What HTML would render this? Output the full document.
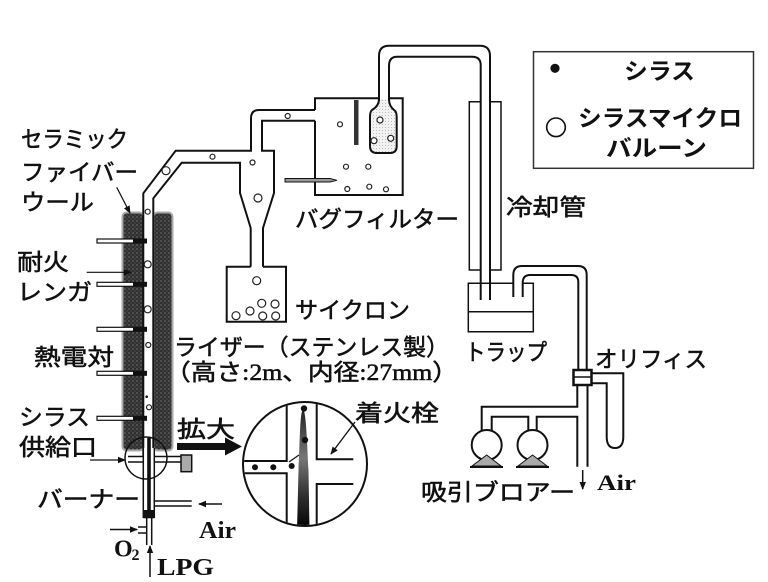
<!DOCTYPE html>
<html><head><meta charset="utf-8">
<style>
html,body{margin:0;padding:0;background:#fff;}
svg{display:block;}
.j{font-family:"Liberation Sans","Noto Sans CJK JP",sans-serif;font-size:23px;fill:#111;stroke:#111;stroke-width:0.55;}
.jb{font-family:"Liberation Sans","Noto Sans CJK JP",sans-serif;font-size:23px;font-weight:bold;fill:#111;}
.s{font-family:"Liberation Serif","Noto Sans CJK JP",serif;font-weight:bold;fill:#111;}
.ln{fill:none;stroke:#111;stroke-width:2;}
.th{fill:none;stroke:#111;stroke-width:1.5;}
.c{fill:#fff;stroke:#222;stroke-width:1.2;}
</style></head><body>
<svg width="768" height="582" viewBox="0 0 768 582" xmlns="http://www.w3.org/2000/svg">
<defs>
<pattern id="br" width="4" height="4" patternUnits="userSpaceOnUse">
<rect width="4" height="4" fill="#303030"/><circle cx="1" cy="1" r="0.6" fill="#9a9a9a"/><circle cx="3" cy="3" r="0.5" fill="#777"/>
</pattern>
<pattern id="bg" width="3" height="3" patternUnits="userSpaceOnUse">
<rect width="3" height="3" fill="#f2f2f2"/><circle cx="1.5" cy="1.5" r="0.5" fill="#aaa"/>
</pattern>
<linearGradient id="fl" x1="0" y1="0" x2="0" y2="1">
<stop offset="0" stop-color="#222"/><stop offset="0.4" stop-color="#777"/><stop offset="0.7" stop-color="#333"/><stop offset="1" stop-color="#000"/>
</linearGradient>
<marker id="ah" markerWidth="8" markerHeight="8" refX="7" refY="4" orient="auto" markerUnits="userSpaceOnUse">
<path d="M0,0.8 L8,4 L0,7.2 Z" fill="#111"/>
</marker>
<clipPath id="mc"><circle cx="305" cy="464" r="61"/></clipPath>
</defs>

<!-- bricks -->
<rect x="122.5" y="212.5" width="21" height="238" rx="4" fill="url(#br)" stroke="#aaa" stroke-width="2"/>
<rect x="153.5" y="212.5" width="19" height="238" rx="4" fill="url(#br)" stroke="#aaa" stroke-width="2"/>
<rect x="143.3" y="195" width="10" height="262" fill="#fff"/>

<!-- riser / duct -->
<path class="ln" d="M143.3,456 V193.3 L175.7,150.7 H251 V118 Q251,110 259,110 H315"/>
<path class="ln" d="M153.3,456 V198.3 L181.7,162.7 H240 V193 L250.7,228 V266.7"/>
<path class="ln" d="M315,120.7 H262 V150.7 H274 V193 L263,228 V266.7"/>
<path class="ln" d="M250.7,266.7 H226.7 V321.7 H286 V266.7 H263"/>

<!-- bag filter -->
<path class="ln" d="M315,110 V98.3 H379 M389,98.3 H402.7 V195 H315 V120.7"/>
<rect x="354" y="100" width="4.5" height="45" fill="#333"/>
<polygon points="285,178.5 330,178.5 337,180.3 330,182 285,182" fill="#999" stroke="#111" stroke-width="1"/>
<path d="M379,99 Q379,106 372,110 Q370,111.5 370,117 V146 Q370,153 377,153 H390 Q396.7,153 396.7,146 V117 Q396.7,111.5 394,110 Q389,106 389,99" fill="url(#bg)" stroke="#111" stroke-width="2"/>

<!-- pipe to cooler -->
<path class="ln" d="M379,100 V56 Q379,45.7 389,45.7 H480 Q490,45.7 490,56 V300"/>
<path class="ln" d="M389,100 V66 Q389,56.7 397,56.7 H472 Q480.7,56.7 480.7,65 V300"/>
<!-- cooler -->
<path class="th" d="M480.7,101.7 H469.3 V270 H480.7 M490,101.7 H501 V270 H490"/>
<!-- trap -->
<path class="th" d="M513.3,283.3 H468.3 V331.7 H533.3 V283.3 H522.7 M468.3,311.7 H533.3"/>
<path class="ln" d="M513.3,297 V275 Q513.3,266 522,266 H578 Q586.7,266 586.7,275 V370"/>
<path class="ln" d="M522.7,297 V283 Q522.7,275 530,275 H571 Q578.3,275 578.3,282 V370"/>
<!-- orifice -->
<rect x="573.5" y="370" width="18" height="15" fill="#fff" stroke="#111" stroke-width="2.5"/>
<line x1="573.5" y1="377" x2="591.5" y2="377" stroke="#111" stroke-width="1.5"/>
<path class="ln" d="M591.7,373.3 H623.3 V436.7 Q623.3,448 615,448 Q606.7,448 606.7,436.7 V383.3 H591.7"/>
<!-- main down pipe & blowers -->
<path class="ln" d="M587.5,385 V466.7 M577.3,385 V406.7 H481.7 V430 M577.3,466.7 V416.7 H536.7 V430 M528.3,430 V416.7 H491.7 V430"/>
<circle cx="486.7" cy="445" r="15" fill="#fff" stroke="#111" stroke-width="2"/>
<circle cx="532.5" cy="445" r="15" fill="#fff" stroke="#111" stroke-width="2"/>
<polygon points="472,466 486.7,455 501,466" fill="#aaa" stroke="#111" stroke-width="1"/>
<polygon points="518,466 532.5,455 547,466" fill="#aaa" stroke="#111" stroke-width="1"/>
<line x1="470" y1="467" x2="503" y2="467" stroke="#111" stroke-width="2"/>
<line x1="516" y1="467" x2="549" y2="467" stroke="#111" stroke-width="2"/>
<line x1="582.7" y1="470" x2="582.7" y2="489" stroke="#111" stroke-width="1.5" marker-end="url(#ah)"/>

<!-- thermocouples -->
<g>
<rect x="97" y="239" width="37" height="4" fill="#fff" stroke="#111" stroke-width="1.2"/><rect x="133" y="238.5" width="14" height="5" fill="#111"/>
<rect x="97" y="282.3" width="37" height="4" fill="#fff" stroke="#111" stroke-width="1.2"/><rect x="133" y="281.8" width="14" height="5" fill="#111"/>
<rect x="97" y="327.3" width="37" height="4" fill="#fff" stroke="#111" stroke-width="1.2"/><rect x="133" y="326.8" width="14" height="5" fill="#111"/>
<rect x="97" y="371.3" width="37" height="4" fill="#fff" stroke="#111" stroke-width="1.2"/><rect x="133" y="370.8" width="14" height="5" fill="#111"/>
<rect x="97" y="416.3" width="37" height="4" fill="#fff" stroke="#111" stroke-width="1.2"/><rect x="133" y="415.8" width="14" height="5" fill="#111"/>
</g>

<!-- burner -->
<rect x="143.3" y="448" width="11" height="70" fill="#fff"/>
<path class="th" d="M143.3,448 V518 M154.3,448 V518"/>
<rect x="147.2" y="438" width="3.6" height="80" fill="#111"/>
<rect x="143.3" y="510" width="11" height="8.3" fill="#111"/>
<path class="th" d="M128,456.5 H143.3 M128,462 H143.3"/>
<path class="th" d="M154.3,456.5 H181 M154.3,462 H181"/>
<rect x="181" y="455" width="10.7" height="16.7" fill="#aaa" stroke="#111" stroke-width="1.5"/>
<path class="th" d="M154.3,501 H191.7 M154.3,506 H191.7"/>
<path class="th" d="M146.7,518 V545 M151.7,518 V545 M138,527 H146.7 M138,533 H146.7"/>
<circle cx="146" cy="458" r="21" fill="none" stroke="#111" stroke-width="1.5"/>
<line x1="222" y1="504" x2="199" y2="504" stroke="#111" stroke-width="1.5" marker-end="url(#ah)"/>
<line x1="110" y1="529.5" x2="137" y2="529.5" stroke="#111" stroke-width="1.5" marker-end="url(#ah)"/>
<line x1="150" y1="577" x2="150" y2="546" stroke="#111" stroke-width="1.5" marker-end="url(#ah)"/>

<!-- label arrows -->
<line x1="116.7" y1="187.3" x2="130" y2="213" stroke="#111" stroke-width="1.2" marker-end="url(#ah)"/>
<line x1="86.7" y1="272.3" x2="131" y2="272.3" stroke="#111" stroke-width="1.2" marker-end="url(#ah)"/>
<line x1="90" y1="460" x2="125" y2="460" stroke="#111" stroke-width="1.2" marker-end="url(#ah)"/>
<polygon points="177,443 225,443 225,437.5 242,446.5 225,455.5 225,450 177,450" fill="#111"/>

<!-- magnified view -->
<circle cx="305" cy="464" r="62" fill="#fff" stroke="#111" stroke-width="2"/>
<g clip-path="url(#mc)">
<path class="ln" d="M286.7,390 V461 H240 M240,473.3 H286.7 V540"/>
<path class="ln" d="M316.7,390 V459.3 H353.3 M353.3,484 H316.7 V540"/>
<path d="M303,410 C306,410 307,440 308.5,470 L309.5,530 L297,530 L298.5,470 C300,440 300,410 303,410 Z" fill="url(#fl)"/>
</g>
<circle cx="304" cy="408.5" r="3.2" fill="#111"/>
<circle cx="305" cy="440" r="3.2" fill="#111"/>
<circle cx="255" cy="467.3" r="3" fill="#111"/>
<circle cx="273.3" cy="467.3" r="3" fill="#111"/>
<circle cx="291.7" cy="466" r="3" fill="#111"/>
<path d="M289,462 L299,455" stroke="#111" stroke-width="1.2"/>
<line x1="355" y1="422" x2="331" y2="454" stroke="#111" stroke-width="1.3" marker-end="url(#ah)"/>

<!-- particles -->
<g class="c">
<circle cx="147.7" cy="211.7" r="2.5"/><circle cx="147.7" cy="264.3" r="3.5"/><circle cx="147.7" cy="309.3" r="3.5"/>
<circle cx="148.3" cy="345" r="2.5"/><circle cx="149" cy="407.3" r="2.5"/>
<circle cx="166" cy="170.7" r="4"/><circle cx="212.5" cy="156.7" r="2.5"/>
<circle cx="252.5" cy="162.5" r="2.5"/><circle cx="258" cy="198" r="4"/>
<circle cx="256.7" cy="280.7" r="4"/><circle cx="261.7" cy="303.3" r="4"/><circle cx="275" cy="304" r="4"/>
<circle cx="250" cy="311" r="4"/><circle cx="236" cy="315.7" r="4"/><circle cx="262.7" cy="316" r="4"/><circle cx="275.7" cy="316" r="4"/>
<circle cx="287.7" cy="116" r="2.5"/>
<circle cx="340" cy="124.3" r="2.5"/><circle cx="346" cy="166.7" r="2.5"/><circle cx="368.3" cy="166.7" r="2.5"/>
<circle cx="347.3" cy="189" r="2.5"/><circle cx="369.3" cy="186.7" r="2.5"/><circle cx="386" cy="189.3" r="2.5"/>
<circle cx="380" cy="120" r="3"/><circle cx="374" cy="140.7" r="3"/><circle cx="390.7" cy="138.3" r="3"/>
</g>
<circle cx="146.7" cy="396.7" r="1.3" fill="#111"/>

<!-- legend -->
<rect x="533.5" y="51.7" width="220" height="116.6" fill="none" stroke="#333" stroke-width="1.5"/>
<circle cx="555" cy="68.3" r="4.6" fill="#111"/>
<circle cx="556" cy="127.3" r="9.3" fill="none" stroke="#111" stroke-width="1.6"/>
<text class="jb" x="624" y="79" textLength="71" lengthAdjust="spacingAndGlyphs">シラス</text>
<text class="jb" x="578" y="126" textLength="164" lengthAdjust="spacingAndGlyphs">シラスマイクロ</text>
<text class="jb" x="606" y="156" textLength="101" lengthAdjust="spacingAndGlyphs">バルーン</text>

<!-- labels -->
<text class="j" x="21" y="147" textLength="107" lengthAdjust="spacingAndGlyphs">セラミック</text>
<text class="j" x="21" y="180" textLength="117" lengthAdjust="spacingAndGlyphs">ファイバー</text>
<text class="j" x="21" y="210" textLength="73" lengthAdjust="spacingAndGlyphs">ウール</text>
<text class="j" x="17" y="270" textLength="52" lengthAdjust="spacingAndGlyphs">耐火</text>
<text class="j" x="17" y="300" textLength="75" lengthAdjust="spacingAndGlyphs">レンガ</text>
<text class="j" x="34" y="365" textLength="80" lengthAdjust="spacingAndGlyphs">熱電対</text>
<text class="j" x="19" y="425" textLength="71" lengthAdjust="spacingAndGlyphs">シラス</text>
<text class="j" x="19" y="455" textLength="78" lengthAdjust="spacingAndGlyphs">供給口</text>
<text class="j" x="37" y="507" textLength="103" lengthAdjust="spacingAndGlyphs">バーナー</text>
<text class="j" x="177" y="437" textLength="58" lengthAdjust="spacingAndGlyphs">拡大</text>
<text class="s" x="199" y="538" font-size="24" textLength="37" lengthAdjust="spacingAndGlyphs">Air</text>
<text class="s" x="114" y="556.5" font-size="24">O</text>
<text class="s" x="131.5" y="560" font-size="16">2</text>
<text class="s" x="157" y="575" font-size="24" textLength="57" lengthAdjust="spacingAndGlyphs">LPG</text>
<text class="j" x="174" y="355" textLength="275" lengthAdjust="spacingAndGlyphs">ライザー（ステンレス製）</text>
<text class="j" x="165" y="380" style="font-family:'Liberation Serif','Noto Sans CJK JP',serif" textLength="293" lengthAdjust="spacingAndGlyphs">（高さ:2m、内径:27mm）</text>
<text class="j" x="295" y="318" textLength="115" lengthAdjust="spacingAndGlyphs">サイクロン</text>
<text class="j" x="295" y="227" textLength="164" lengthAdjust="spacingAndGlyphs">バグフィルター</text>
<text class="j" x="506" y="215" textLength="80" lengthAdjust="spacingAndGlyphs">冷却管</text>
<text class="j" x="465" y="360" textLength="82" lengthAdjust="spacingAndGlyphs">トラップ</text>
<text class="j" x="595" y="367" textLength="112" lengthAdjust="spacingAndGlyphs">オリフィス</text>
<text class="j" x="355" y="421" textLength="84" lengthAdjust="spacingAndGlyphs">着火栓</text>
<text class="j" x="421" y="500" textLength="154" lengthAdjust="spacingAndGlyphs">吸引ブロアー</text>
<text class="s" x="597" y="490" font-size="22" textLength="39" lengthAdjust="spacingAndGlyphs">Air</text>
</svg>
</body></html>
